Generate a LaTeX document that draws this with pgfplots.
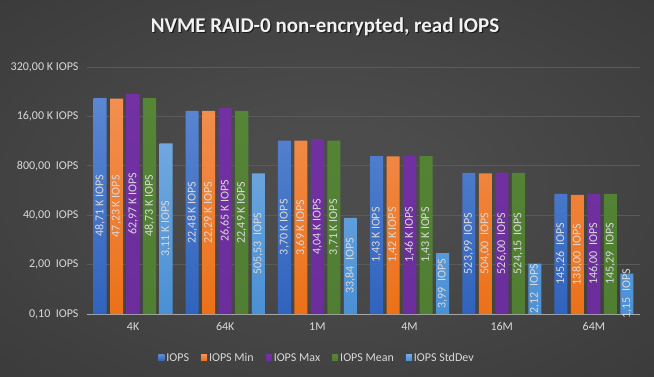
\documentclass[border=0pt]{standalone}
\usepackage{pgfplots}
\pgfplotsset{compat=1.18}
\usepackage{fontspec}
\setmainfont{Carlito}
\definecolor{txt}{HTML}{D9D9D9}
\definecolor{gridc}{HTML}{5A5A5A}
\definecolor{axc}{HTML}{A6A6A6}
\definecolor{bgin}{HTML}{4C4C4C}
\definecolor{bgout}{HTML}{262626}
\definecolor{bluet}{HTML}{5B87D2}
\definecolor{blueb}{HTML}{3063BE}
\definecolor{oranget}{HTML}{F28F51}
\definecolor{orangeb}{HTML}{EC7118}
\definecolor{purpt}{HTML}{7331A3}
\definecolor{purpb}{HTML}{6C2E9C}
\definecolor{grnt}{HTML}{568536}
\definecolor{grnb}{HTML}{507E32}
\definecolor{ltbt}{HTML}{70A8E0}
\definecolor{ltbb}{HTML}{4A90D5}
\pgfdeclareradialshading{bgshade}{\pgfpoint{0bp}{0bp}}{color(0bp)=(bgin); color(8bp)=(bgin); color(70bp)=(bgout)}
\newcommand{\lf}{\fontsize{12}{14}\selectfont}
\begin{document}
\begin{tikzpicture}[x=1pt,y=1pt]
\shade[shading=bgshade] (0pt,0pt) rectangle (654pt,376pt);
\node[font=\fontsize{21}{25}\selectfont\bfseries, text=black, opacity=0.6] at (326.2pt,347.8pt) {NVME RAID-0 non-encrypted, read IOPS};
\node[font=\fontsize{21}{25}\selectfont\bfseries, text=white!95!black] at (325pt,349pt) {NVME RAID-0 non-encrypted, read IOPS};
\begin{axis}[
  at={(87pt,62pt)}, anchor=south west, scale only axis,
  width=553pt, height=247pt,
  ymode=log, ymin=0.1, ymax=320000, log origin=infty,
  xmin=-0.5, xmax=5.5,
  xtick={0,1,2,3,4,5}, xticklabels={4K,64K,1M,4M,16M,64M},
  ytick={0.1,2,40,800,16000,320000},
  yticklabels={{0,10\ \ IOPS},{2,00\ \ IOPS},{40,00\ \ IOPS},{800,00\ \ IOPS},{16,00 K IOPS},{320,00 K IOPS}},
  yminorticks=false,
  ymajorgrids, grid style={gridc, line width=0.75pt},
  major tick length=0pt,
  axis lines*=left,
  y axis line style={draw=none},
  x axis line style={draw=axc, line width=0.9pt},
  tick label style={font=\lf, text=txt},
  yticklabel style={xshift=-5pt},
  xticklabel style={yshift=-5pt},
  legend style={at={(0.416,-0.178)}, anchor=center, legend columns=-1, draw=none, fill=none,
    font=\lf, text=txt, /tikz/every even column/.append style={column sep=10pt}},
  legend image code/.code={\path[#1, draw=none] (0pt,-3pt) rectangle (6pt,3pt);},
  /pgf/number format/assume math mode=true,
  clip=false,
]
\addplot[ybar, bar width=13pt, bar shift=-33pt, draw=none, top color=bluet, bottom color=blueb]
  coordinates {(0,48710) (1,22480) (2,3700) (3,1430) (4,523.99) (5,145.26)};
\addlegendentry{IOPS}
\addplot[ybar, bar width=13pt, bar shift=-16.5pt, draw=none, top color=oranget, bottom color=orangeb]
  coordinates {(0,47230) (1,22290) (2,3690) (3,1420) (4,504.00) (5,138.00)};
\addlegendentry{IOPS Min}
\addplot[ybar, bar width=13pt, bar shift=0pt, draw=none, top color=purpt, bottom color=purpb]
  coordinates {(0,62970) (1,26650) (2,4040) (3,1460) (4,526.00) (5,146.00)};
\addlegendentry{IOPS Max}
\addplot[ybar, bar width=13pt, bar shift=16.5pt, draw=none, top color=grnt, bottom color=grnb]
  coordinates {(0,48730) (1,22490) (2,3710) (3,1430) (4,524.15) (5,145.29)};
\addlegendentry{IOPS Mean}
\addplot[ybar, bar width=13pt, bar shift=33pt, draw=none, top color=ltbt, bottom color=ltbb]
  coordinates {(0,3110) (1,505.53) (2,33.84) (3,3.99) (4,2.12) (5,1.15)};
\addlegendentry{IOPS StdDev}
% data labels, centred in each bar
\pgfplotsset{lbl/.style={forget plot, draw=none, mark=none, nodes near coords, point meta=explicit symbolic,
  every node near coord/.style={rotate=90, anchor=center, font=\lf, text=txt, inner sep=0pt}}}
\addplot[lbl] coordinates {(-0.358,69.79) [48,71 K IOPS] (0.642,47.41) [22,48 K IOPS] (1.642,19.24) [3,70 K IOPS] (2.642,11.96) [1,43 K IOPS] (3.642,7.24) [523,99\ \ IOPS] (4.642,3.81) [145,26\ \ IOPS]};
\addplot[lbl] coordinates {(-0.179,68.72) [47,23 K IOPS] (0.821,47.21) [22,29 K IOPS] (1.821,19.21) [3,69 K IOPS] (2.821,11.92) [1,42 K IOPS] (3.821,7.10) [504,00\ \ IOPS] (4.821,3.715) [138,00\ \ IOPS]};
\addplot[lbl] coordinates {(0,79.35) [62,97 K IOPS] (1,51.62) [26,65 K IOPS] (2,20.10) [4,04 K IOPS] (3,12.08) [1,46 K IOPS] (4,7.25) [526,00\ \ IOPS] (5,3.82) [146,00\ \ IOPS]};
\addplot[lbl] coordinates {(0.179,69.81) [48,73 K IOPS] (1.179,47.42) [22,49 K IOPS] (2.179,19.26) [3,71 K IOPS] (3.179,11.96) [1,43 K IOPS] (4.179,7.24) [524,15\ \ IOPS] (5.179,3.81) [145,29\ \ IOPS]};
\addplot[lbl] coordinates {(0.358,17.64) [3,11 K IOPS] (1.358,7.11) [505,53\ \ IOPS] (2.358,1.84) [33,84\ \ IOPS] (3.358,0.632) [3,99\ \ IOPS] (4.358,0.460) [2,12\ \ IOPS] (5.358,0.339) [1,15\ \ IOPS]};
\end{axis}
\end{tikzpicture}
\end{document}
